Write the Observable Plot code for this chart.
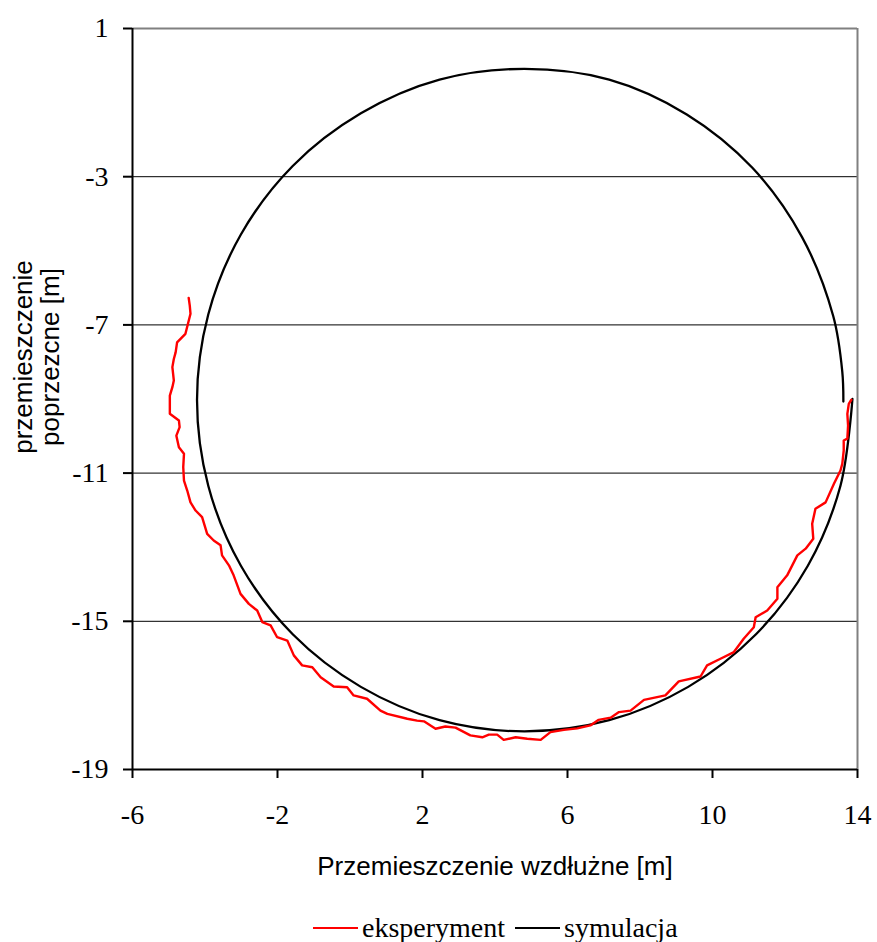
<!DOCTYPE html>
<html>
<head>
<meta charset="utf-8">
<script src="https://cdn.jsdelivr.net/npm/d3@7"></script>
<script src="https://cdn.jsdelivr.net/npm/@observablehq/plot@0.6"></script>
<style>
  html, body { margin: 0; padding: 0; background: #ffffff; }
  #wrap { position: relative; width: 877px; height: 942px; }
  #legend { position: absolute; left: 313px; top: 912px; height: 32px; display: flex; align-items: center;
            font-family: "Liberation Serif", "Times New Roman", serif; font-size: 28px; color: #000; white-space: nowrap; }
  .sw { display: inline-block; width: 45px; height: 2px; margin-right: 4px; }
  .item { display: flex; align-items: center; margin-right: 10px; }
</style>
</head>
<body>
<div id="wrap">
  <div id="chart"></div>
  <div id="legend"></div>
</div>
<script>
// ---- data ----
const seriesNames = ["eksperyment", "symulacja"];
const seriesColors = ["#ff0000", "#000000"];

const expX = [-4.45,-4.42,-4.40,-4.47,-4.54,-4.77,-4.81,-4.86,-4.90,-4.86,-4.90,-4.97,-4.97,-4.72,-4.70,-4.79,-4.72,-4.58,-4.60,-4.58,
  -4.49,-4.40,-4.26,-4.08,-3.94,-3.76,-3.57,-3.53,-3.34,-3.21,-3.02,-2.79,-2.56,-2.42,-2.19,-2.01,-1.73,-1.55,-1.32,-1.04,
  -0.81,-0.45,-0.08,0.10,0.47,0.84,1.03,1.58,1.85,2.04,2.36,2.63,2.91,3.32,3.65,3.83,4.06,4.24,4.57,4.89,
  5.26,5.53,5.90,6.27,6.63,6.86,7.19,7.42,7.74,8.11,8.70,9.07,9.67,9.85,10.22,10.59,10.86,11.14,11.19,11.51,
  11.79,11.79,12.06,12.34,12.57,12.78,12.75,12.84,13.12,13.35,13.53,13.58,13.62,13.62,13.72,13.74,13.72,13.76,13.83];
const expY = [-6.27,-6.48,-6.70,-6.97,-7.24,-7.47,-7.74,-7.92,-8.14,-8.50,-8.68,-8.91,-9.40,-9.58,-9.76,-9.99,-10.30,-10.48,-10.84,-11.20,
  -11.47,-11.79,-12.01,-12.19,-12.64,-12.82,-12.95,-13.22,-13.49,-13.76,-14.26,-14.53,-14.71,-15.02,-15.11,-15.43,-15.52,-15.92,-16.19,-16.24,
  -16.51,-16.76,-16.78,-17.00,-17.09,-17.41,-17.50,-17.63,-17.68,-17.70,-17.90,-17.84,-17.87,-18.08,-18.13,-18.06,-18.06,-18.20,-18.13,-18.17,
  -18.20,-17.99,-17.93,-17.89,-17.81,-17.66,-17.60,-17.45,-17.41,-17.12,-17.00,-16.62,-16.49,-16.19,-16.01,-15.83,-15.47,-15.16,-14.89,-14.71,
  -14.39,-14.08,-13.76,-13.22,-13.04,-12.77,-12.37,-11.96,-11.79,-11.29,-10.93,-10.75,-10.39,-10.12,-10.07,-9.72,-9.40,-9.13,-9.02];

const simX = [13.86,13.53,12.63,11.20,9.33,7.15,4.81,2.47,0.30,-1.58,-3.01,-3.91,-4.22,-3.91,-3.01,-1.58,0.30,2.47,4.81,7.15,9.29,11.10,12.47,13.33,13.58,13.61];
const simY = [-9.00,-11.34,-13.50,-15.35,-16.77,-17.67,-17.97,-17.67,-16.77,-15.35,-13.50,-11.34,-9.03,-6.72,-4.56,-2.71,-1.29,-0.38,-0.09,-0.38,-1.32,-2.76,-4.63,-6.76,-8.26,-9.07];

const xTicks = [-6, -2, 2, 6, 10, 14];
const yTicks = [-19, -15, -11, -7, -3, 1];
const gridY = [-3, -7, -11, -15];
const xLabel = "Przemieszczenie wzdłużne [m]";
const yLabel = "przemieszczenie\npoprzezcne [m]";

// ---- tables ----
const exp = expX.map((x, i) => ({x, y: expY[i]}));
const sim = simX.map((x, i) => ({x, y: simY[i]}));

const serif = "'Liberation Serif', 'Times New Roman', serif";
const sans = "'Liberation Sans', Arial, sans-serif";

const chart = Plot.plot({
  width: 877,
  height: 900,
  marginLeft: 132,
  marginRight: 20,
  marginTop: 28,
  marginBottom: 131,
  style: {background: "#ffffff", overflow: "visible"},
  x: {domain: [-6, 14]},
  y: {domain: [-19, 1]},
  marks: [
    Plot.ruleY(gridY, {stroke: "#000", strokeWidth: 1}),
    Plot.ruleY([1], {stroke: "#808080", strokeWidth: 2}),
    Plot.ruleX([14], {stroke: "#808080", strokeWidth: 2}),
    Plot.line(sim, {x: "x", y: "y", stroke: seriesColors[1], strokeWidth: 2.3, curve: "catmull-rom"}),
    Plot.line(exp, {x: "x", y: "y", stroke: seriesColors[0], strokeWidth: 2.4}),
    Plot.ruleX([-6], {stroke: "#000", strokeWidth: 2}),
    Plot.ruleY([-19], {stroke: "#000", strokeWidth: 2}),
    Plot.axisX(xTicks, {anchor: "bottom", tickSize: 9, tickPadding: 26, strokeWidth: 2, label: null,
      tickFormat: d => String(d), fontSize: 28, fontFamily: serif, fill: "#000"}),
    Plot.axisY(yTicks, {anchor: "left", tickSize: 9, tickPadding: 15, strokeWidth: 2, label: null,
      tickFormat: d => String(d), fontSize: 28, fontFamily: serif, fill: "#000"}),
    Plot.text([xLabel], {frameAnchor: "bottom", dy: 97, lineAnchor: "middle", textAnchor: "middle",
      fontSize: 26, fontFamily: sans, fill: "#000"}),
    Plot.text([yLabel], {frameAnchor: "left", dx: -96, dy: -42, rotate: -90, lineHeight: 1.05,
      textAnchor: "middle", lineAnchor: "middle", fontSize: 26, fontFamily: sans, fill: "#000"})
  ]
});
document.getElementById("chart").appendChild(chart);

// ---- legend ----
const legend = document.getElementById("legend");
seriesNames.forEach((name, i) => {
  const item = document.createElement("span");
  item.className = "item";
  const sw = document.createElement("span");
  sw.className = "sw";
  sw.style.background = seriesColors[i];
  item.appendChild(sw);
  item.appendChild(document.createTextNode(name));
  legend.appendChild(item);
});
</script>
</body>
</html>
